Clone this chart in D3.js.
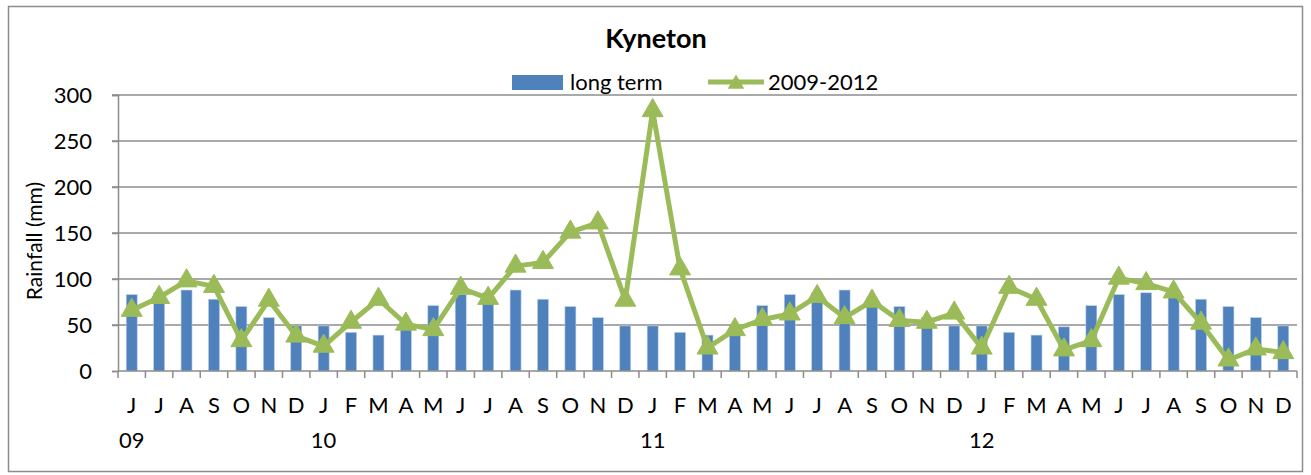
<!DOCTYPE html>
<meta charset="utf-8">
<script src="https://d3js.org/d3.v7.min.js"></script>
<style>
  body { margin: 0; background: #fff; }
  text { font-family: Lato, "Open Sans", sans-serif; }
</style>
<div id="chart"></div>
<script>

// month labels, year labels (shown under the first month of each year)
var months = ["J","J","A","S","O","N","D",
  "J","F","M","A","M","J","J","A","S","O","N","D",
  "J","F","M","A","M","J","J","A","S","O","N","D",
  "J","F","M","A","M","J","J","A","S","O","N","D"]
var yearLabels = [{i: 0, t: "09"}, {i: 7, t: "10"}, {i: 19, t: "11"}, {i: 31, t: "12"}]

// long term monthly average (mm), Jun 2009 .. Dec 2012
var longTerm = [83, 85, 88, 78, 70, 58, 49,
  49, 42, 39, 48, 71, 83, 85, 88, 78, 70, 58, 49,
  49, 42, 39, 48, 71, 83, 85, 88, 78, 70, 58, 49,
  49, 42, 39, 48, 71, 83, 85, 88, 78, 70, 58, 49]

// actual monthly rainfall 2009-2012 (mm)
var actual = [66, 80, 98, 92, 33, 77, 38,
  27, 53, 78, 51, 45, 90, 79, 114, 118, 151, 161, 77,
  283, 111, 25, 45, 56, 62, 81, 58, 76, 55, 53, 63,
  25, 91, 78, 23, 33, 101, 95, 86, 52, 12, 24, 20]

var yTicks = [0, 50, 100, 150, 200, 250, 300]

var W = 1311, H = 475
var margin = {top: 95, right: 14, bottom: 104, left: 118}
var width = 1297 - margin.left, height = 371 - margin.top

var svg = d3.select("#chart").append("svg")
  .attr("width", W)
  .attr("height", H)

// outer frame
svg.append("rect")
  .attr("x", 8.5).attr("y", 6.5)
  .attr("width", 1294).attr("height", 465)
  .attr("fill", "#fff")
  .attr("stroke", "#8c8c8c")
  .attr("stroke-width", 1.5)

var g = svg.append("g")
  .attr("transform", "translate(" + margin.left + "," + margin.top + ")")

var idx = d3.range(months.length)

var x = d3.scaleBand()
  .domain(idx)
  .range([0, width])
  .paddingInner(0.6)
  .paddingOuter(0.3)

var xc = function(i) { return x(i) + x.bandwidth() / 2 }
var step = width / months.length

var y = d3.scaleLinear()
  .domain([0, 300])
  .range([height, 0])

// gridlines
g.append("g")
  .selectAll("line")
  .data(yTicks.slice(1))
  .enter().append("line")
    .attr("x1", -6).attr("x2", width)
    .attr("y1", function(d) { return y(d) }).attr("y2", function(d) { return y(d) })
    .attr("stroke", "#8c8c8c")
    .attr("stroke-width", 1.5)

// y axis
var yAxis = g.append("g")
  .call(d3.axisLeft(y).tickValues(yTicks).tickSize(6).tickPadding(20))
yAxis.select(".domain").attr("stroke", "#8c8c8c").attr("stroke-width", 1.5)
yAxis.selectAll(".tick line").attr("stroke", "#8c8c8c").attr("stroke-width", 1.5)
yAxis.selectAll("text")
  .style("font-size", "22px")
  .attr("fill", "#000")

// bars
g.selectAll(".bar")
  .data(longTerm)
  .enter().append("rect")
    .attr("class", "bar")
    .attr("x", function(d, i) { return x(i) })
    .attr("y", function(d) { return y(d) })
    .attr("width", x.bandwidth())
    .attr("height", function(d) { return height - y(d) })
    .attr("fill", "#4f81bd")
    .attr("stroke", "#b9cde5")
    .attr("stroke-width", 0.6)

// x axis line and ticks at category boundaries
g.append("line")
  .attr("x1", 0).attr("x2", width)
  .attr("y1", height).attr("y2", height)
  .attr("stroke", "#8c8c8c").attr("stroke-width", 1.5)

g.append("g")
  .selectAll("line")
  .data(d3.range(months.length + 1))
  .enter().append("line")
    .attr("x1", function(d) { return d * step }).attr("x2", function(d) { return d * step })
    .attr("y1", height).attr("y2", height + 7)
    .attr("stroke", "#8c8c8c").attr("stroke-width", 1.5)

g.append("g")
  .selectAll("text")
  .data(months)
  .enter().append("text")
    .attr("x", function(d, i) { return xc(i) })
    .attr("y", height + 42)
    .attr("text-anchor", "middle")
    .style("font-size", "22px")
    .text(function(d) { return d })

g.append("g")
  .selectAll("text")
  .data(yearLabels)
  .enter().append("text")
    .attr("x", function(d) { return xc(d.i) })
    .attr("y", height + 77)
    .attr("text-anchor", "middle")
    .style("font-size", "22px")
    .text(function(d) { return d.t })

// line series
var line = d3.line()
  .x(function(d, i) { return xc(i) })
  .y(function(d) { return y(d) })

g.append("path")
  .datum(actual)
  .attr("d", line)
  .attr("fill", "none")
  .attr("stroke", "#9bbb59")
  .attr("stroke-width", 5)
  .attr("stroke-linejoin", "round")

var tri = d3.symbol().type(d3.symbolTriangle).size(190)

g.selectAll(".marker")
  .data(actual)
  .enter().append("path")
    .attr("class", "marker")
    .attr("d", tri)
    .attr("transform", function(d, i) { return "translate(" + xc(i) + "," + y(d) + ")" })
    .attr("fill", "#9bbb59")
    .attr("stroke", "#9bbb59")
    .attr("stroke-width", 1)

// title
svg.append("text")
  .attr("x", 656)
  .attr("y", 48)
  .attr("text-anchor", "middle")
  .style("font-size", "27px")
  .style("font-weight", "bold")
  .text("Kyneton")

// legend
var leg = svg.append("g")
leg.append("rect")
  .attr("x", 512).attr("y", 75)
  .attr("width", 51).attr("height", 15)
  .attr("fill", "#4f81bd")
leg.append("text")
  .attr("x", 570).attr("y", 90)
  .style("font-size", "22px")
  .text("long term")
leg.append("line")
  .attr("x1", 708).attr("x2", 764)
  .attr("y1", 82).attr("y2", 82)
  .attr("stroke", "#9bbb59").attr("stroke-width", 5)
leg.append("path")
  .attr("d", d3.symbol().type(d3.symbolTriangle).size(120))
  .attr("transform", "translate(736,84)")
  .attr("fill", "#9bbb59")
leg.append("text")
  .attr("x", 768).attr("y", 90)
  .style("font-size", "22px")
  .text("2009-2012")

// y axis title
svg.append("text")
  .attr("transform", "translate(42,241) rotate(-90)")
  .attr("text-anchor", "middle")
  .style("font-size", "21px")
  .text("Rainfall (mm)")

</script>
